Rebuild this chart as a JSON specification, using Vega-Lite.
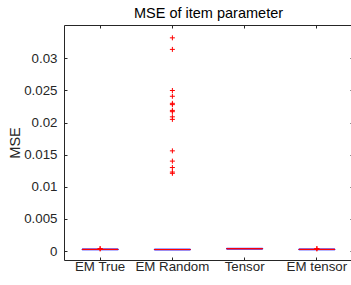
{
  "$schema": "https://vega.github.io/schema/vega-lite/v6.json",
  "width": 289,
  "height": 235,
  "autosize": {"type": "none"},
  "padding": {"left": 64, "top": 25, "right": 0, "bottom": 25},
  "background": "white",
  "title": {"text": "MSE of item parameter", "fontSize": 14.5, "fontWeight": "normal", "font": "Liberation Sans", "color": "#000000", "offset": 3},
  "config": {
    "view": {"stroke": null},
    "axis": {"labelFont": "Liberation Sans", "titleFont": "Liberation Sans", "labelFontSize": 13.3, "titleFontSize": 14.5, "titleFontWeight": "normal", "labelColor": "#262626", "titleColor": "#262626", "domainColor": "#262626", "tickColor": "#262626", "grid": false, "domainWidth": 1, "tickWidth": 1}
  },
  "datasets": {
    "boxes": [
      {"method": "EM True", "q1": 0.00019, "median": 0.00025, "q3": 0.00031},
      {"method": "EM Random", "q1": 0.00017, "median": 0.00023, "q3": 0.00029},
      {"method": "Tensor", "q1": 0.0003, "median": 0.00036, "q3": 0.00042},
      {"method": "EM tensor", "q1": 0.00019, "median": 0.00025, "q3": 0.00031}
    ],
    "outliers": [
      {"method": "EM True", "mse": 0.00038},
      {"method": "EM True", "mse": 0.00033},
      {"method": "EM Random", "mse": 0.0332},
      {"method": "EM Random", "mse": 0.0314},
      {"method": "EM Random", "mse": 0.0250},
      {"method": "EM Random", "mse": 0.0241},
      {"method": "EM Random", "mse": 0.0230},
      {"method": "EM Random", "mse": 0.0228},
      {"method": "EM Random", "mse": 0.0219},
      {"method": "EM Random", "mse": 0.0217},
      {"method": "EM Random", "mse": 0.0209},
      {"method": "EM Random", "mse": 0.0205},
      {"method": "EM Random", "mse": 0.0156},
      {"method": "EM Random", "mse": 0.0140},
      {"method": "EM Random", "mse": 0.0130},
      {"method": "EM Random", "mse": 0.0123},
      {"method": "EM Random", "mse": 0.0121},
      {"method": "EM tensor", "mse": 0.00038},
      {"method": "EM tensor", "mse": 0.00033}
    ]
  },
  "layer": [
    {
      "data": {"name": "boxes"},
      "mark": {"type": "rect", "fill": null, "stroke": "#0000ff", "strokeWidth": 1},
      "encoding": {
        "x": {"field": "method", "type": "nominal", "sort": ["EM True", "EM Random", "Tensor", "EM tensor"],
              "scale": {"type": "band", "paddingInner": 0.5, "paddingOuter": 0.25},
              "axis": {"orient": "bottom", "title": null, "labelAngle": 0, "tickSize": -3, "labelPadding": 2}},
        "y": {"field": "q1", "type": "quantitative",
              "scale": {"domain": [-0.0014, 0.0352], "nice": false, "zero": false},
              "axis": {"orient": "left", "title": "MSE", "values": [0, 0.005, 0.01, 0.015, 0.02, 0.025, 0.03], "format": ".3~f", "tickSize": -3, "labelPadding": 10, "titlePadding": 1}},
        "y2": {"field": "q3"}
      }
    },
    {
      "data": {"name": "boxes"},
      "mark": {"type": "rect", "fill": null, "stroke": "#ff0000", "strokeWidth": 1},
      "encoding": {
        "x": {"field": "method", "type": "nominal", "sort": ["EM True", "EM Random", "Tensor", "EM tensor"], "axis": null},
        "y": {"field": "median", "type": "quantitative", "axis": null},
        "y2": {"field": "median"}
      }
    },
    {
      "data": {"name": "outliers"},
      "mark": {"type": "point", "shape": "M-1,0L1,0M0,-1L0,1", "filled": false, "stroke": "#ff0000", "strokeWidth": 1, "size": 25, "opacity": 1},
      "encoding": {
        "x": {"field": "method", "type": "nominal", "sort": ["EM True", "EM Random", "Tensor", "EM tensor"],
              "axis": {"orient": "top", "title": null, "labels": false, "tickSize": -3}},
        "y": {"field": "mse", "type": "quantitative",
              "axis": {"orient": "right", "title": null, "labels": false, "values": [0, 0.005, 0.01, 0.015, 0.02, 0.025, 0.03], "tickSize": -3}}
      }
    }
  ],
  "resolve": {"axis": {"x": "independent", "y": "independent"}}
}
